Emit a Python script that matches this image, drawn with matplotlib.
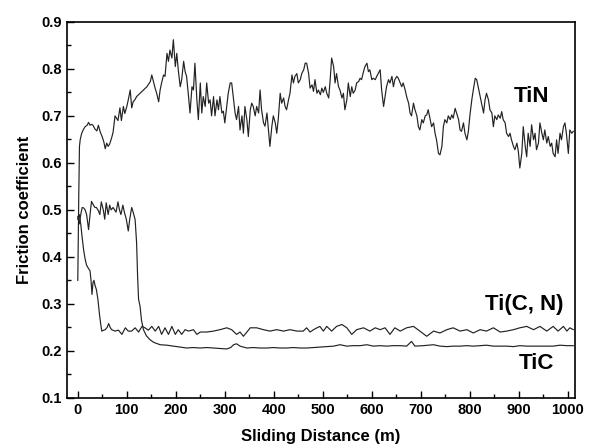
import matplotlib
matplotlib.use("Agg")
import matplotlib.pyplot as plt
from matplotlib.ticker import MultipleLocator

plt.rcParams["font.family"] = ["Liberation Sans", "DejaVu Sans"]
plt.rcParams["font.weight"] = "bold"

# (sliding distance m, friction coefficient)
tin = [
    (0, 0.35), (1, 0.45), (2, 0.53), (3.4, 0.635), (5, 0.65), (8, 0.663), (12, 0.672), (15, 0.677),
    (19, 0.68), (22, 0.686), (25, 0.68), (28, 0.682), (31, 0.68), (35, 0.672), (39, 0.668), (42, 0.68),
    (46, 0.665), (50, 0.655), (53, 0.645), (56, 0.63), (59, 0.642), (62, 0.635), (65, 0.64), (69, 0.653),
    (72, 0.665), (76, 0.7), (79, 0.695), (82, 0.69), (86, 0.717), (89, 0.69), (93, 0.72), (96, 0.705),
    (100, 0.72), (103, 0.734), (107, 0.755), (110, 0.717), (113, 0.73), (117, 0.735), (120, 0.741),
    (127, 0.748), (134, 0.755), (141, 0.762), (148, 0.773), (151, 0.787), (155, 0.77), (158, 0.758),
    (161, 0.748), (165, 0.73), (168, 0.755), (171, 0.77), (175, 0.787), (178, 0.784), (182, 0.833),
    (185, 0.816), (188, 0.84), (192, 0.823), (195, 0.862), (199, 0.805), (202, 0.833), (205, 0.798),
    (209, 0.762), (212, 0.777), (216, 0.816), (219, 0.794), (222, 0.784), (226, 0.741), (229, 0.706),
    (233, 0.762), (236, 0.755), (239, 0.812), (243, 0.734), (246, 0.692), (250, 0.77), (253, 0.706),
    (256, 0.741), (260, 0.72), (263, 0.77), (267, 0.727), (270, 0.734), (273, 0.7), (277, 0.741),
    (280, 0.7), (284, 0.734), (287, 0.713), (290, 0.741), (294, 0.706), (297, 0.71), (300, 0.685),
    (304, 0.72), (307, 0.748), (311, 0.77), (314, 0.77), (318, 0.734), (321, 0.706), (324, 0.692),
    (328, 0.72), (331, 0.67), (335, 0.7), (338, 0.663), (341, 0.72), (345, 0.692), (348, 0.656),
    (352, 0.713), (355, 0.727), (358, 0.72), (362, 0.7), (365, 0.72), (369, 0.706), (372, 0.755),
    (375, 0.713), (379, 0.685), (382, 0.678), (386, 0.706), (389, 0.67), (392, 0.635), (396, 0.678),
    (399, 0.7), (403, 0.685), (406, 0.663), (409, 0.692), (413, 0.748), (416, 0.727), (420, 0.738),
    (423, 0.72), (426, 0.713), (430, 0.734), (433, 0.748), (437, 0.787), (440, 0.77), (443, 0.784),
    (447, 0.79), (450, 0.77), (454, 0.777), (457, 0.79), (461, 0.798), (464, 0.812), (467, 0.812),
    (471, 0.79), (474, 0.759), (478, 0.766), (481, 0.752), (484, 0.777), (488, 0.748), (491, 0.755),
    (495, 0.745), (498, 0.759), (501, 0.75), (505, 0.762), (508, 0.748), (512, 0.738), (515, 0.777),
    (518, 0.823), (522, 0.805), (525, 0.77), (528, 0.79), (532, 0.762), (535, 0.755), (539, 0.738),
    (542, 0.748), (545, 0.713), (549, 0.734), (552, 0.77), (556, 0.741), (559, 0.762), (562, 0.748),
    (566, 0.755), (569, 0.77), (573, 0.773), (576, 0.78), (579, 0.777), (583, 0.794), (586, 0.805),
    (590, 0.812), (593, 0.794), (596, 0.798), (600, 0.777), (603, 0.78), (607, 0.777), (610, 0.784),
    (613, 0.79), (617, 0.798), (620, 0.755), (624, 0.72), (627, 0.741), (630, 0.762), (634, 0.777),
    (637, 0.77), (641, 0.784), (644, 0.762), (647, 0.777), (651, 0.784), (654, 0.78), (658, 0.77),
    (661, 0.762), (664, 0.77), (668, 0.755), (671, 0.741), (675, 0.727), (678, 0.706), (681, 0.7),
    (685, 0.727), (688, 0.713), (692, 0.7), (695, 0.677), (698, 0.67), (702, 0.692), (705, 0.685),
    (709, 0.7), (712, 0.702), (715, 0.713), (719, 0.692), (722, 0.677), (726, 0.685), (729, 0.663),
    (732, 0.649), (736, 0.62), (739, 0.617), (743, 0.635), (746, 0.677), (749, 0.692), (753, 0.685),
    (756, 0.7), (760, 0.692), (763, 0.702), (766, 0.695), (770, 0.716), (773, 0.706), (777, 0.692),
    (780, 0.67), (783, 0.667), (787, 0.685), (790, 0.663), (794, 0.649), (797, 0.667), (800, 0.7),
    (804, 0.734), (807, 0.755), (811, 0.78), (814, 0.777), (817, 0.762), (821, 0.741), (824, 0.727),
    (828, 0.706), (831, 0.734), (834, 0.748), (838, 0.734), (841, 0.713), (845, 0.706), (848, 0.677),
    (851, 0.7), (855, 0.692), (858, 0.702), (862, 0.695), (865, 0.709), (868, 0.692), (872, 0.685),
    (875, 0.663), (879, 0.656), (882, 0.663), (885, 0.649), (889, 0.635), (892, 0.628), (896, 0.642),
    (899, 0.624), (902, 0.589), (906, 0.62), (909, 0.677), (913, 0.635), (916, 0.613), (919, 0.663),
    (923, 0.635), (926, 0.681), (930, 0.649), (933, 0.663), (936, 0.628), (940, 0.642), (943, 0.685),
    (947, 0.663), (950, 0.649), (953, 0.67), (957, 0.642), (960, 0.656), (964, 0.635), (967, 0.642),
    (970, 0.62), (974, 0.613), (977, 0.649), (980, 0.62), (984, 0.663), (987, 0.649), (991, 0.677),
    (994, 0.685), (997, 0.663), (1001, 0.62), (1004, 0.67), (1008, 0.663), (1011, 0.667),
]

ticn = [
    (0, 0.48), (3, 0.49), (6, 0.47), (9, 0.44), (12, 0.414), (15, 0.395), (18, 0.382), (22, 0.375),
    (25, 0.37), (27, 0.35), (29, 0.32), (31, 0.345), (33, 0.35), (35, 0.34), (38, 0.33), (41, 0.31),
    (44, 0.28), (47, 0.255), (49, 0.242), (53, 0.244), (56, 0.245), (60, 0.25), (63, 0.258), (66, 0.25),
    (69, 0.245), (76, 0.242), (83, 0.244), (90, 0.235), (97, 0.249), (103, 0.242), (110, 0.242),
    (117, 0.249), (124, 0.24), (131, 0.252), (137, 0.249), (144, 0.244), (151, 0.252), (158, 0.242),
    (165, 0.252), (171, 0.235), (178, 0.249), (185, 0.235), (192, 0.252), (199, 0.235), (205, 0.245),
    (212, 0.235), (219, 0.245), (226, 0.242), (236, 0.245), (243, 0.235), (250, 0.24), (263, 0.24),
    (277, 0.242), (290, 0.245), (304, 0.249), (314, 0.245), (324, 0.235), (331, 0.24), (338, 0.231),
    (345, 0.24), (352, 0.249), (365, 0.249), (379, 0.245), (392, 0.242), (406, 0.245), (420, 0.242),
    (433, 0.245), (447, 0.242), (460, 0.242), (467, 0.249), (474, 0.24), (481, 0.245), (488, 0.249),
    (494, 0.252), (501, 0.242), (508, 0.252), (518, 0.242), (528, 0.252), (539, 0.256), (549, 0.249),
    (559, 0.235), (569, 0.245), (583, 0.249), (596, 0.242), (607, 0.249), (617, 0.245), (627, 0.249),
    (637, 0.235), (647, 0.249), (658, 0.242), (671, 0.249), (685, 0.252), (698, 0.242), (712, 0.231),
    (726, 0.242), (739, 0.238), (753, 0.245), (766, 0.249), (780, 0.242), (794, 0.245), (807, 0.238),
    (821, 0.245), (834, 0.242), (848, 0.249), (862, 0.24), (875, 0.242), (889, 0.245), (902, 0.249),
    (916, 0.252), (930, 0.245), (943, 0.252), (957, 0.242), (970, 0.252), (980, 0.242), (991, 0.252),
    (998, 0.242), (1004, 0.249), (1011, 0.245),
]

tic = [
    (0, 0.486), (3, 0.47), (6, 0.49), (9, 0.505), (12, 0.504), (15, 0.5), (18, 0.49), (22, 0.458),
    (25, 0.49), (28, 0.518), (32, 0.51), (35, 0.505), (38, 0.505), (42, 0.498), (45, 0.49), (48, 0.517),
    (52, 0.5), (55, 0.48), (58, 0.515), (62, 0.49), (65, 0.51), (68, 0.5), (72, 0.505), (75, 0.5),
    (78, 0.495), (82, 0.517), (85, 0.5), (88, 0.49), (92, 0.51), (95, 0.495), (99, 0.48), (103, 0.455),
    (106, 0.48), (110, 0.505), (113, 0.495), (117, 0.479), (120, 0.43), (122, 0.36), (124, 0.31),
    (127, 0.295), (130, 0.265), (134, 0.245), (140, 0.232), (147, 0.224), (155, 0.218), (168, 0.213),
    (182, 0.212), (195, 0.21), (209, 0.208), (222, 0.206), (236, 0.207), (250, 0.206), (263, 0.207),
    (277, 0.206), (290, 0.205), (304, 0.204), (312, 0.207), (318, 0.213), (324, 0.215), (331, 0.21),
    (345, 0.206), (358, 0.207), (372, 0.206), (386, 0.206), (399, 0.207), (413, 0.206), (426, 0.206),
    (440, 0.207), (454, 0.206), (467, 0.206), (481, 0.207), (494, 0.208), (508, 0.209), (522, 0.21),
    (535, 0.213), (549, 0.21), (562, 0.211), (576, 0.211), (590, 0.213), (603, 0.21), (617, 0.211),
    (630, 0.21), (644, 0.211), (658, 0.211), (671, 0.21), (681, 0.22), (688, 0.21), (705, 0.211),
    (726, 0.213), (739, 0.21), (753, 0.209), (766, 0.21), (780, 0.21), (794, 0.211), (807, 0.21),
    (821, 0.211), (834, 0.212), (848, 0.21), (862, 0.21), (875, 0.21), (889, 0.209), (902, 0.211),
    (916, 0.21), (930, 0.21), (943, 0.21), (957, 0.21), (970, 0.21), (984, 0.212), (998, 0.211),
    (1011, 0.211),
]

series_names = ["TiN", "Ti(C, N)", "TiC"]
label_pos = [(925, 0.741), (911, 0.299), (935, 0.173)]

fig = plt.figure(figsize=(5.93, 4.46), dpi=100)
ax = fig.add_axes([0.113, 0.108, 0.857, 0.843])

for pts in (tin, ticn, tic):
    xs = [p[0] for p in pts]
    ys = [p[1] for p in pts]
    ax.plot(xs, ys, color="#222222", lw=0.85)

for name, (lx, ly) in zip(series_names, label_pos):
    ax.text(lx, ly, name, fontsize=16, fontweight="bold", ha="center", va="center")

ax.set_xlim(-22, 1015)
ax.set_ylim(0.1, 0.9)
ax.xaxis.set_major_locator(MultipleLocator(100))
ax.xaxis.set_minor_locator(MultipleLocator(50))
ax.yaxis.set_major_locator(MultipleLocator(0.1))
ax.yaxis.set_minor_locator(MultipleLocator(0.05))
ax.tick_params(which="both", direction="in", top=False, right=False, labelsize=10.5)
ax.tick_params(which="major", length=5, width=1)
ax.tick_params(which="minor", length=3, width=1)
ax.set_yticks([0.1, 0.2, 0.3, 0.4, 0.5, 0.6, 0.7, 0.8, 0.9])
ax.set_yticklabels(["0.1", "0.2", "0.3", "0.4", "0.5", "0.6", "0.7", "0.8", "0.9"])
for s in ax.spines.values():
    s.set_linewidth(1.2)

ax.set_xlabel("Sliding Distance (m)", fontsize=12, fontweight="bold", labelpad=9)
ax.set_ylabel("Friction coefficient", fontsize=12, fontweight="bold", labelpad=7)

fig.savefig("out.png", dpi=100)
